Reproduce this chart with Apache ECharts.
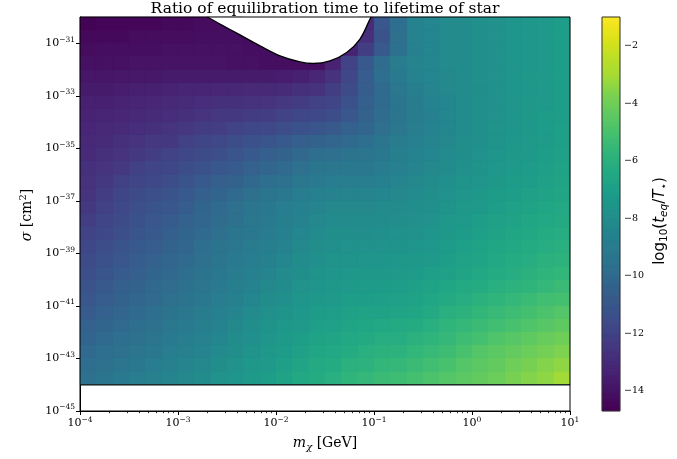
<!DOCTYPE html>
<html>
<head>
<meta charset="utf-8">
<script src="https://cdn.jsdelivr.net/npm/echarts@6/dist/echarts.min.js"></script>
<style>
  html, body { margin: 0; padding: 0; background: #fff; }
  #chart { width: 677px; height: 459px; }
</style>
</head>
<body>
<div id="chart"></div>
<script>
// ---- data -------------------------------------------------------------
// log10 of the dark-matter mass [GeV] covered by the map
const massSpan = [-4, 1];
// log10 of the cross section [cm^2] covered by the map, and by the axis
const sigmaSpan = [-44, -30];
const axisSigmaSpan = [-45, -30];

// tick positions (log10 units)
const massTicks = [-4, -3, -2, -1, 0, 1];
const sigmaTicks = [-45, -43, -41, -39, -37, -35, -33, -31];
const colorTicks = [-14, -12, -10, -8, -6, -4, -2];
const minorSteps = [2, 3, 4, 5, 6, 7, 8, 9];

// colour scale limits of log10(t_eq / T_star)
const colorRange = [-14.7, -1.0];

// contour around the excluded region at large cross section
const edgeMass  = [-2.70, -2.571, -2.367, -2.163, -1.959, -1.755, -1.62, -1.449, -1.279, -1.143, -1.041, -1.03];
const edgeSigma = [-30.0, -30.27, -30.68, -31.10, -31.48, -31.71, -31.77, -31.67, -31.35, -30.84, -30.08, -30.0];

// log10(t_eq / T_star): 30 mass columns x 28 cross-section rows,
// rows listed from sigma = 1e-30 downward, null = excluded
const logRatioRows = [
  [-14.6,-14.5,-14.5,-14.5,-14.5,-14.4,-14.4,-14.3,-14.3,-14.3,null,null,null,null,null,null,null,-13.0,-11.0,-9.8,-8.6,-8.4,-8.2,-8.1,-7.9,-7.8,-7.6,-7.5,-7.3,-7.1],
  [-14.4,-14.4,-14.4,-14.3,-14.3,-14.3,-14.3,-14.2,-14.2,-14.2,-14.2,null,null,null,null,null,-13.6,-12.8,-11.2,-9.7,-8.6,-8.4,-8.2,-8.1,-7.9,-7.8,-7.6,-7.5,-7.3,-7.1],
  [-14.3,-14.2,-14.2,-14.2,-14.2,-14.1,-14.1,-14.1,-14.1,-14.1,-14.2,-14.2,-14.2,null,null,-13.8,-13.4,-12.2,-10.9,-9.6,-8.7,-8.4,-8.2,-8.1,-7.9,-7.8,-7.6,-7.5,-7.3,-7.1],
  [-14.1,-14.1,-14.1,-14.0,-14.0,-14.0,-14.0,-14.0,-14.0,-14.1,-14.1,-14.2,-14.2,-14.2,-14.2,-13.4,-12.0,-10.9,-9.9,-9.0,-8.5,-8.4,-8.2,-8.1,-7.9,-7.8,-7.6,-7.5,-7.3,-7.1],
  [-13.9,-13.9,-13.8,-13.8,-13.8,-13.7,-13.7,-13.7,-13.7,-13.7,-13.7,-13.7,-13.6,-13.5,-13.2,-12.7,-11.8,-10.7,-9.8,-9.1,-8.6,-8.4,-8.3,-8.1,-7.9,-7.8,-7.6,-7.4,-7.3,-7.1],
  [-13.7,-13.7,-13.6,-13.5,-13.5,-13.4,-13.3,-13.3,-13.2,-13.2,-13.1,-13.1,-13.0,-12.8,-12.7,-12.2,-11.6,-10.7,-10.0,-9.3,-8.8,-8.5,-8.3,-8.1,-8.0,-7.8,-7.6,-7.5,-7.3,-7.1],
  [-13.5,-13.5,-13.4,-13.3,-13.2,-13.1,-13.0,-12.9,-12.8,-12.8,-12.7,-12.6,-12.5,-12.3,-12.1,-11.9,-11.3,-10.6,-10.0,-9.4,-9.0,-8.6,-8.4,-8.1,-7.9,-7.8,-7.6,-7.4,-7.3,-7.1],
  [-13.4,-13.3,-13.2,-13.1,-13.0,-12.9,-12.8,-12.6,-12.5,-12.4,-12.3,-12.2,-12.0,-11.8,-11.7,-11.5,-11.0,-10.4,-9.9,-9.4,-9.0,-8.7,-8.4,-8.1,-7.9,-7.8,-7.6,-7.4,-7.2,-7.1],
  [-13.3,-13.1,-13.0,-12.9,-12.8,-12.6,-12.5,-12.3,-12.2,-12.0,-11.8,-11.7,-11.5,-11.3,-11.1,-10.9,-10.5,-10.2,-9.7,-9.3,-8.9,-8.6,-8.4,-8.1,-7.9,-7.7,-7.6,-7.4,-7.2,-7.0],
  [-13.1,-13.0,-12.8,-12.6,-12.5,-12.4,-12.1,-11.9,-11.7,-11.5,-11.3,-11.1,-10.9,-10.6,-10.4,-10.2,-10.0,-9.8,-9.4,-9.0,-8.7,-8.5,-8.3,-8.0,-7.9,-7.7,-7.5,-7.3,-7.2,-7.0],
  [-13.0,-12.8,-12.6,-12.4,-12.2,-12.0,-11.8,-11.6,-11.4,-11.1,-10.9,-10.6,-10.4,-10.1,-9.8,-9.7,-9.5,-9.4,-9.2,-8.8,-8.6,-8.4,-8.2,-8.0,-7.8,-7.6,-7.4,-7.3,-7.1,-6.9],
  [-12.8,-12.6,-12.4,-12.1,-11.9,-11.8,-11.5,-11.3,-11.0,-10.8,-10.5,-10.2,-10.0,-9.7,-9.4,-9.3,-9.2,-9.2,-9.0,-8.7,-8.5,-8.3,-8.1,-7.9,-7.7,-7.5,-7.3,-7.2,-7.0,-6.8],
  [-12.7,-12.4,-12.1,-11.9,-11.7,-11.5,-11.2,-10.9,-10.6,-10.4,-10.1,-9.8,-9.6,-9.3,-9.1,-8.9,-8.9,-8.9,-8.7,-8.5,-8.3,-8.1,-7.9,-7.7,-7.6,-7.4,-7.2,-7.1,-6.9,-6.7],
  [-12.6,-12.2,-11.9,-11.6,-11.4,-11.2,-10.9,-10.6,-10.3,-10.0,-9.7,-9.4,-9.2,-8.9,-8.7,-8.6,-8.5,-8.5,-8.4,-8.3,-8.2,-8.0,-7.8,-7.6,-7.4,-7.2,-7.1,-6.9,-6.8,-6.6],
  [-12.4,-12.1,-11.7,-11.4,-11.2,-11.0,-10.7,-10.3,-10.0,-9.7,-9.4,-9.2,-8.9,-8.7,-8.5,-8.3,-8.3,-8.3,-8.2,-8.1,-8.0,-7.9,-7.7,-7.4,-7.3,-7.1,-6.9,-6.8,-6.6,-6.5],
  [-12.2,-11.9,-11.6,-11.3,-11.0,-10.8,-10.5,-10.2,-9.9,-9.6,-9.3,-9.1,-8.8,-8.6,-8.3,-8.2,-8.1,-8.1,-8.1,-8.0,-7.9,-7.8,-7.5,-7.3,-7.1,-6.9,-6.8,-6.6,-6.5,-6.4],
  [-12.0,-11.7,-11.4,-11.1,-10.9,-10.6,-10.3,-10.0,-9.7,-9.4,-9.2,-9.0,-8.7,-8.4,-8.2,-8.0,-8.0,-8.0,-7.9,-7.8,-7.8,-7.6,-7.4,-7.2,-7.0,-6.8,-6.6,-6.5,-6.3,-6.2],
  [-11.8,-11.5,-11.2,-10.9,-10.7,-10.4,-10.2,-9.8,-9.5,-9.3,-9.0,-8.8,-8.6,-8.3,-8.0,-7.9,-7.8,-7.8,-7.8,-7.7,-7.6,-7.5,-7.2,-7.0,-6.8,-6.6,-6.5,-6.3,-6.2,-6.1],
  [-11.6,-11.3,-11.0,-10.7,-10.5,-10.2,-10.0,-9.7,-9.4,-9.1,-8.9,-8.7,-8.4,-8.1,-7.9,-7.7,-7.7,-7.6,-7.6,-7.5,-7.4,-7.3,-7.1,-6.8,-6.7,-6.5,-6.3,-6.2,-6.0,-5.9],
  [-11.4,-11.1,-10.8,-10.6,-10.3,-10.1,-9.8,-9.5,-9.2,-9.0,-8.7,-8.5,-8.2,-8.0,-7.7,-7.6,-7.5,-7.4,-7.4,-7.3,-7.2,-7.0,-6.9,-6.7,-6.5,-6.3,-6.2,-6.0,-5.8,-5.7],
  [-11.2,-10.9,-10.6,-10.4,-10.1,-9.9,-9.6,-9.4,-9.1,-8.8,-8.6,-8.3,-8.1,-7.8,-7.6,-7.4,-7.3,-7.2,-7.2,-7.1,-7.0,-6.8,-6.6,-6.4,-6.3,-6.1,-5.9,-5.8,-5.6,-5.4],
  [-11.0,-10.7,-10.4,-10.2,-10.0,-9.7,-9.5,-9.2,-8.9,-8.7,-8.4,-8.1,-7.9,-7.6,-7.4,-7.3,-7.1,-7.1,-7.0,-6.9,-6.8,-6.6,-6.4,-6.2,-6.0,-5.8,-5.6,-5.4,-5.2,-5.1],
  [-10.8,-10.5,-10.2,-10.0,-9.8,-9.5,-9.3,-9.0,-8.7,-8.5,-8.2,-7.9,-7.7,-7.5,-7.2,-7.1,-6.9,-6.8,-6.8,-6.7,-6.6,-6.4,-6.1,-5.9,-5.7,-5.5,-5.3,-5.1,-4.9,-4.7],
  [-10.5,-10.3,-10.0,-9.8,-9.6,-9.3,-9.1,-8.8,-8.6,-8.3,-8.0,-7.7,-7.5,-7.3,-7.0,-6.9,-6.7,-6.6,-6.5,-6.4,-6.3,-6.1,-5.8,-5.6,-5.4,-5.2,-5.0,-4.8,-4.6,-4.4],
  [-10.3,-10.0,-9.8,-9.6,-9.4,-9.1,-8.9,-8.6,-8.4,-8.1,-7.9,-7.6,-7.3,-7.1,-6.8,-6.7,-6.5,-6.4,-6.2,-6.2,-6.0,-5.8,-5.6,-5.3,-5.1,-4.8,-4.6,-4.4,-4.2,-4.0],
  [-10.0,-9.8,-9.6,-9.4,-9.2,-8.9,-8.7,-8.5,-8.2,-8.0,-7.7,-7.4,-7.2,-6.9,-6.6,-6.5,-6.3,-6.1,-6.0,-5.9,-5.7,-5.5,-5.3,-5.0,-4.7,-4.5,-4.3,-4.1,-3.9,-3.7],
  [-9.8,-9.6,-9.4,-9.2,-8.9,-8.7,-8.5,-8.3,-8.0,-7.8,-7.5,-7.3,-7.0,-6.7,-6.4,-6.3,-6.0,-5.9,-5.7,-5.6,-5.4,-5.2,-5.0,-4.7,-4.5,-4.3,-4.0,-3.8,-3.6,-3.4],
  [-9.6,-9.4,-9.1,-8.9,-8.7,-8.5,-8.3,-8.1,-7.8,-7.6,-7.3,-7.1,-6.8,-6.5,-6.3,-6.1,-5.8,-5.6,-5.4,-5.3,-5.1,-4.9,-4.7,-4.5,-4.3,-4.1,-3.8,-3.6,-3.4,-3.1]
];

// ---- styling ----------------------------------------------------------
const SERIF = '"DejaVu Serif", serif';
const SANS = '"DejaVu Sans", sans-serif';
const viridis = [
  '#440154', '#471365', '#482475', '#46337e', '#414487', '#3b528b', '#355f8d',
  '#2f6c8e', '#2a788e', '#25838e', '#21918c', '#1e9c89', '#22a884', '#2fb47c',
  '#44bf70', '#5ec962', '#7ad151', '#a5db36', '#bddf26', '#dfe318', '#fde725'
];

// ---- derived geometry -------------------------------------------------
const nCols = logRatioRows[0].length;
const nRows = logRatioRows.length;
const dx = (massSpan[1] - massSpan[0]) / nCols;
const dy = (sigmaSpan[1] - sigmaSpan[0]) / nRows;
const cells = [];
logRatioRows.forEach((row, r) => {
  row.forEach((v, c) => {
    if (v === null) return;
    const x0 = massSpan[0] + c * dx;
    const yTop = sigmaSpan[1] - r * dy;
    cells.push([x0, x0 + dx, yTop - dy, yTop, v]);
  });
});

// colour bar ramp
const rampSteps = 274;
const rampStep = (colorRange[1] - colorRange[0]) / rampSteps;
const ramp = [];
for (let k = 0; k < rampSteps; k++) {
  const a = colorRange[0] + k * rampStep;
  ramp.push([0, 1, a, a + rampStep, a + rampStep / 2]);
}

const minorMassTicks = [];
massTicks.slice(0, -1).forEach(e => minorSteps.forEach(s => minorMassTicks.push(e + Math.log10(s))));

const edgeLine = edgeMass.map((m, i) => [m, edgeSigma[i]]);
const floorLine = [[massSpan[0], sigmaSpan[0]], [massSpan[1], sigmaSpan[0]]];

const powLabel = e => `{b|10}{s|${e < 0 ? '\u2212' + (-e) : e}}`;
const powRich = {
  b: { fontFamily: SERIF, fontSize: 11, lineHeight: 15, color: '#000' },
  s: { fontFamily: SERIF, fontSize: 7.5, verticalAlign: 'top', color: '#000' }
};

function cellRect(params, api) {
  const p0 = api.coord([api.value(0), api.value(3)]);
  const p1 = api.coord([api.value(1), api.value(2)]);
  const x = Math.round(p0[0]), y = Math.round(p0[1]);
  const color = api.visual('color');
  return {
    type: 'rect',
    shape: { x: x, y: y, width: Math.round(p1[0]) - x, height: Math.round(p1[1]) - y },
    style: { fill: color, stroke: color, lineWidth: 0.3 }
  };
}

const chart = echarts.init(document.getElementById('chart'), null, { renderer: 'canvas' });
chart.setOption({
  animation: false,
  backgroundColor: '#fff',
  grid: [
    { left: 80, top: 17, width: 490, height: 394, show: true, borderColor: '#000', borderWidth: 1, backgroundColor: 'transparent', z: 10 },
    { left: 602, top: 17, width: 18, height: 394, show: true, borderColor: '#333', borderWidth: 1, backgroundColor: 'transparent', z: 10 }
  ],
  xAxis: [
    {
      gridIndex: 0, type: 'value', min: massSpan[0], max: massSpan[1],
      axisLine: { show: true, onZero: false, lineStyle: { color: '#000', width: 1 } },
      axisTick: { show: true, customValues: massTicks, length: 4, lineStyle: { color: '#000' } },
      axisLabel: { customValues: massTicks, margin: 5, formatter: powLabel, rich: powRich },
      splitLine: { show: false }
    },
    {
      gridIndex: 0, type: 'value', min: massSpan[0], max: massSpan[1], position: 'bottom',
      axisLine: { show: false },
      axisTick: { show: true, customValues: minorMassTicks, length: 2.2, lineStyle: { color: '#000', width: 0.8 } },
      axisLabel: { show: false },
      splitLine: { show: false }
    },
    { gridIndex: 1, type: 'value', min: 0, max: 1, show: false }
  ],
  yAxis: [
    {
      gridIndex: 0, type: 'value', min: axisSigmaSpan[0], max: axisSigmaSpan[1],
      axisLine: { show: true, onZero: false, lineStyle: { color: '#000', width: 1 } },
      axisTick: { show: true, customValues: sigmaTicks, length: 4, lineStyle: { color: '#000' } },
      axisLabel: { customValues: sigmaTicks, margin: 5, formatter: powLabel, rich: powRich },
      splitLine: { show: false }
    },
    {
      gridIndex: 1, type: 'value', min: colorRange[0], max: colorRange[1], position: 'right',
      axisLine: { show: false },
      axisTick: { show: true, customValues: colorTicks, length: 4, lineStyle: { color: '#000' } },
      axisLabel: {
        customValues: colorTicks, margin: 4, color: '#000', fontFamily: SERIF, fontSize: 9.5,
        formatter: v => '\u2212' + Math.abs(v)
      },
      splitLine: { show: false }
    }
  ],
  visualMap: {
    type: 'continuous', show: false, min: colorRange[0], max: colorRange[1],
    dimension: 4, seriesIndex: [0, 3], inRange: { color: viridis }
  },
  series: [
    {
      type: 'custom', xAxisIndex: 0, yAxisIndex: 0, renderItem: cellRect,
      encode: { x: [0, 1], y: [2, 3] }, data: cells, z: 2
    },
    {
      // excluded region: blank above the contour, contour drawn in black
      type: 'line', xAxisIndex: 0, yAxisIndex: 0, data: edgeLine, smooth: 0.35,
      showSymbol: false, symbol: 'none', lineStyle: { color: '#000', width: 1.3 },
      areaStyle: { color: '#fff', opacity: 1, origin: 'end' }, z: 5
    },
    {
      type: 'line', xAxisIndex: 0, yAxisIndex: 0, data: floorLine,
      showSymbol: false, symbol: 'none', lineStyle: { color: '#1c2a2a', width: 1.4 }, z: 5
    },
    {
      type: 'custom', xAxisIndex: 2, yAxisIndex: 1, renderItem: cellRect,
      encode: { x: [0, 1], y: [2, 3] }, data: ramp, z: 2
    }
  ],
  graphic: [
    {
      type: 'text', x: 325, y: 8.5, z: 20,
      style: {
        text: 'Ratio of equilibration time to lifetime of star',
        font: '15.5px "DejaVu Serif", serif', fill: '#000',
        textAlign: 'center', textVerticalAlign: 'middle'
      }
    },
    {
      type: 'text', x: 325, y: 443, z: 20,
      style: {
        text: '{i|m}{sub|\u03c7}{r| [GeV]}',
        textAlign: 'center', textVerticalAlign: 'middle',
        rich: {
          i: { fontFamily: SERIF, fontStyle: 'italic', fontSize: 14, fill: '#000' },
          sub: { fontFamily: SERIF, fontStyle: 'italic', fontSize: 10, verticalAlign: 'bottom', lineHeight: 18, fill: '#000' },
          r: { fontFamily: SERIF, fontSize: 14, fill: '#000' }
        }
      }
    },
    {
      type: 'text', x: 27, y: 215, rotation: Math.PI / 2, z: 20,
      style: {
        text: '{i|\u03c3}{r| [cm}{sup|2}{r|]}',
        textAlign: 'center', textVerticalAlign: 'middle',
        rich: {
          i: { fontFamily: SERIF, fontStyle: 'italic', fontSize: 14, lineHeight: 18, fill: '#000' },
          r: { fontFamily: SERIF, fontSize: 14, lineHeight: 18, fill: '#000' },
          sup: { fontFamily: SERIF, fontSize: 10, verticalAlign: 'top', fill: '#000' }
        }
      }
    },
    {
      type: 'text', x: 660, y: 221, rotation: Math.PI / 2, z: 20,
      style: {
        text: '{r|log}{sub|10}{r|(}{i|t}{isub|eq}{r|/}{i|T}{sub|\u22c6}{r|)}',
        textAlign: 'center', textVerticalAlign: 'middle',
        rich: {
          r: { fontFamily: SANS, fontSize: 15, lineHeight: 20, fill: '#000' },
          i: { fontFamily: SANS, fontStyle: 'italic', fontSize: 15, lineHeight: 20, fill: '#000' },
          sub: { fontFamily: SANS, fontSize: 10.5, verticalAlign: 'bottom', fill: '#000' },
          isub: { fontFamily: SANS, fontStyle: 'italic', fontSize: 10.5, verticalAlign: 'bottom', fill: '#000' }
        }
      }
    }
  ]
});
</script>
</body>
</html>
